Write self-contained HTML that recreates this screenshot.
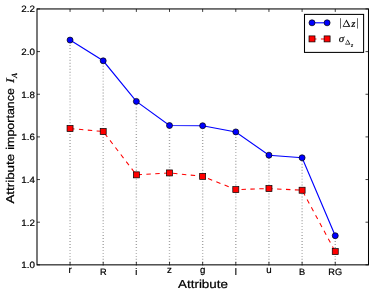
<!DOCTYPE html><html><head><meta charset="utf-8"><style>html,body{margin:0;padding:0;background:#fff}svg{display:block}text{font-family:"Liberation Sans",sans-serif;fill:#000;text-rendering:geometricPrecision;stroke:#000;stroke-width:0.22px}.s{font-family:"Liberation Serif",serif}</style></head><body>
<svg width="374" height="293" viewBox="0 0 374 293">
<rect width="374" height="293" fill="#fff"/><filter id="f" x="0" y="0" width="1" height="1" color-interpolation-filters="sRGB"><feOffset dx="0" dy="0"/></filter><g filter="url(#f)">
<line x1="70.05" y1="265.70" x2="70.05" y2="40.08" stroke="#000" stroke-width="1.4" stroke-dasharray="0.9 2.07" opacity="0.36"/>
<line x1="103.20" y1="265.70" x2="103.20" y2="60.80" stroke="#000" stroke-width="1.4" stroke-dasharray="0.9 2.07" opacity="0.36"/>
<line x1="136.35" y1="265.70" x2="136.35" y2="101.38" stroke="#000" stroke-width="1.4" stroke-dasharray="0.9 2.07" opacity="0.36"/>
<line x1="169.50" y1="265.70" x2="169.50" y2="125.52" stroke="#000" stroke-width="1.4" stroke-dasharray="0.9 2.07" opacity="0.36"/>
<line x1="202.65" y1="265.70" x2="202.65" y2="125.73" stroke="#000" stroke-width="1.4" stroke-dasharray="0.9 2.07" opacity="0.36"/>
<line x1="235.80" y1="265.70" x2="235.80" y2="131.92" stroke="#000" stroke-width="1.4" stroke-dasharray="0.9 2.07" opacity="0.36"/>
<line x1="268.95" y1="265.70" x2="268.95" y2="155.20" stroke="#000" stroke-width="1.4" stroke-dasharray="0.9 2.07" opacity="0.36"/>
<line x1="302.10" y1="265.70" x2="302.10" y2="157.77" stroke="#000" stroke-width="1.4" stroke-dasharray="0.9 2.07" opacity="0.36"/>
<line x1="335.25" y1="265.70" x2="335.25" y2="235.73" stroke="#000" stroke-width="1.4" stroke-dasharray="0.9 2.07" opacity="0.36"/>
<polyline points="70.05,40.08 103.20,60.80 136.35,101.38 169.50,125.52 202.65,125.73 235.80,131.92 268.95,155.20 302.10,157.77 335.25,235.73" fill="none" stroke="#0000ff" stroke-width="1.15"/>
<polyline points="70.05,128.51 103.20,131.50 136.35,174.85 169.50,172.93 202.65,176.35 235.80,189.59 268.95,188.52 302.10,190.23 335.25,251.62" fill="none" stroke="#ff0000" stroke-width="1.05" stroke-dasharray="4.45 4.45"/>
<circle cx="70.05" cy="40.08" r="3.0" fill="#0000ff" stroke="#000" stroke-width="0.7"/>
<circle cx="103.20" cy="60.80" r="3.0" fill="#0000ff" stroke="#000" stroke-width="0.7"/>
<circle cx="136.35" cy="101.38" r="3.0" fill="#0000ff" stroke="#000" stroke-width="0.7"/>
<circle cx="169.50" cy="125.52" r="3.0" fill="#0000ff" stroke="#000" stroke-width="0.7"/>
<circle cx="202.65" cy="125.73" r="3.0" fill="#0000ff" stroke="#000" stroke-width="0.7"/>
<circle cx="235.80" cy="131.92" r="3.0" fill="#0000ff" stroke="#000" stroke-width="0.7"/>
<circle cx="268.95" cy="155.20" r="3.0" fill="#0000ff" stroke="#000" stroke-width="0.7"/>
<circle cx="302.10" cy="157.77" r="3.0" fill="#0000ff" stroke="#000" stroke-width="0.7"/>
<circle cx="335.25" cy="235.73" r="3.0" fill="#0000ff" stroke="#000" stroke-width="0.7"/>
<rect x="67.05" y="125.51" width="6.0" height="6.0" fill="#ff0000" stroke="#000" stroke-width="0.7"/>
<rect x="100.20" y="128.50" width="6.0" height="6.0" fill="#ff0000" stroke="#000" stroke-width="0.7"/>
<rect x="133.35" y="171.85" width="6.0" height="6.0" fill="#ff0000" stroke="#000" stroke-width="0.7"/>
<rect x="166.50" y="169.93" width="6.0" height="6.0" fill="#ff0000" stroke="#000" stroke-width="0.7"/>
<rect x="199.65" y="173.35" width="6.0" height="6.0" fill="#ff0000" stroke="#000" stroke-width="0.7"/>
<rect x="232.80" y="186.59" width="6.0" height="6.0" fill="#ff0000" stroke="#000" stroke-width="0.7"/>
<rect x="265.95" y="185.52" width="6.0" height="6.0" fill="#ff0000" stroke="#000" stroke-width="0.7"/>
<rect x="299.10" y="187.23" width="6.0" height="6.0" fill="#ff0000" stroke="#000" stroke-width="0.7"/>
<rect x="332.25" y="248.62" width="6.0" height="6.0" fill="#ff0000" stroke="#000" stroke-width="0.7"/>
<rect x="37.0" y="8.95" width="331.50" height="255.90" fill="none" stroke="#000" stroke-width="1.05"/>
<path d="M70.05 264.85v-3.0M70.05 8.95v3.0" stroke="#000" stroke-width="0.75"/>
<path d="M103.20 264.85v-3.0M103.20 8.95v3.0" stroke="#000" stroke-width="0.75"/>
<path d="M136.35 264.85v-3.0M136.35 8.95v3.0" stroke="#000" stroke-width="0.75"/>
<path d="M169.50 264.85v-3.0M169.50 8.95v3.0" stroke="#000" stroke-width="0.75"/>
<path d="M202.65 264.85v-3.0M202.65 8.95v3.0" stroke="#000" stroke-width="0.75"/>
<path d="M235.80 264.85v-3.0M235.80 8.95v3.0" stroke="#000" stroke-width="0.75"/>
<path d="M268.95 264.85v-3.0M268.95 8.95v3.0" stroke="#000" stroke-width="0.75"/>
<path d="M302.10 264.85v-3.0M302.10 8.95v3.0" stroke="#000" stroke-width="0.75"/>
<path d="M335.25 264.85v-3.0M335.25 8.95v3.0" stroke="#000" stroke-width="0.75"/>
<path d="M37.0 264.85h3.0M368.5 264.85h-3.0" stroke="#000" stroke-width="0.75"/>
<text x="34.9" y="268.15" font-size="9.2" text-anchor="end" textLength="13.6" lengthAdjust="spacingAndGlyphs">1.0</text>
<path d="M37.0 222.20h3.0M368.5 222.20h-3.0" stroke="#000" stroke-width="0.75"/>
<text x="34.9" y="225.50" font-size="9.2" text-anchor="end" textLength="13.6" lengthAdjust="spacingAndGlyphs">1.2</text>
<path d="M37.0 179.55h3.0M368.5 179.55h-3.0" stroke="#000" stroke-width="0.75"/>
<text x="34.9" y="182.85" font-size="9.2" text-anchor="end" textLength="13.6" lengthAdjust="spacingAndGlyphs">1.4</text>
<path d="M37.0 136.90h3.0M368.5 136.90h-3.0" stroke="#000" stroke-width="0.75"/>
<text x="34.9" y="140.20" font-size="9.2" text-anchor="end" textLength="13.6" lengthAdjust="spacingAndGlyphs">1.6</text>
<path d="M37.0 94.25h3.0M368.5 94.25h-3.0" stroke="#000" stroke-width="0.75"/>
<text x="34.9" y="97.55" font-size="9.2" text-anchor="end" textLength="13.6" lengthAdjust="spacingAndGlyphs">1.8</text>
<path d="M37.0 51.60h3.0M368.5 51.60h-3.0" stroke="#000" stroke-width="0.75"/>
<text x="34.9" y="54.90" font-size="9.2" text-anchor="end" textLength="13.6" lengthAdjust="spacingAndGlyphs">2.0</text>
<path d="M37.0 8.95h3.0M368.5 8.95h-3.0" stroke="#000" stroke-width="0.75"/>
<text x="34.9" y="12.25" font-size="9.2" text-anchor="end" textLength="13.6" lengthAdjust="spacingAndGlyphs">2.2</text>
<text x="70.05" y="272.9" font-size="9.7" text-anchor="middle">r</text>
<text x="103.20" y="275.0" font-size="9.2" text-anchor="middle">R</text>
<text x="136.35" y="275.0" font-size="9.4" text-anchor="middle">i</text>
<text x="169.50" y="272.9" font-size="9.7" text-anchor="middle">z</text>
<text x="202.65" y="272.9" font-size="9.7" text-anchor="middle">g</text>
<text x="235.80" y="275.0" font-size="9.4" text-anchor="middle">l</text>
<text x="268.95" y="272.9" font-size="9.7" text-anchor="middle">u</text>
<text x="302.10" y="275.0" font-size="9.2" text-anchor="middle">B</text>
<text x="335.25" y="275.0" font-size="9.2" text-anchor="middle">RG</text>
<text x="203.0" y="287.5" font-size="11.6" text-anchor="middle" textLength="49.9" lengthAdjust="spacingAndGlyphs">Attribute</text>
<g transform="translate(13.9 203.6) rotate(-90)"><text x="0" y="0" font-size="11.3" textLength="49.8" lengthAdjust="spacingAndGlyphs">Attribute</text><text x="53.9" y="0" font-size="11.3" textLength="61.6" lengthAdjust="spacingAndGlyphs">importance</text><text class="s" x="120.6" y="0" font-size="11.6" font-style="italic" textLength="4.8" lengthAdjust="spacingAndGlyphs">I</text><text class="s" x="125.5" y="3.3" font-size="8.0" font-style="italic">A</text></g>
<rect x="304.5" y="14.4" width="59.1" height="38" fill="none" stroke="#000" stroke-width="1.05"/>
<line x1="312" y1="22.8" x2="327.1" y2="22.8" stroke="#0000ff" stroke-width="1.15"/>
<circle cx="312" cy="22.8" r="3.0" fill="#0000ff" stroke="#000" stroke-width="0.7"/><circle cx="327.1" cy="22.8" r="3.0" fill="#0000ff" stroke="#000" stroke-width="0.7"/>
<line x1="312" y1="38.9" x2="327.1" y2="38.9" stroke="#ff0000" stroke-width="1.05" stroke-dasharray="4.45 4.45"/>
<rect x="309.0" y="35.9" width="6" height="6" fill="#ff0000" stroke="#000" stroke-width="0.7"/><rect x="324.1" y="35.9" width="6" height="6" fill="#ff0000" stroke="#000" stroke-width="0.7"/>
<path d="M340.5 18.2v10.4M357.5 18.2v10.4" stroke="#000" stroke-width="0.6"/>
<path fill-rule="evenodd" fill="#000" d="M342.60 26.70L346.50 19.50L350.40 26.70ZM343.69 25.91L346.23 21.23L348.76 25.91Z"/>
<text class="s" x="351.2" y="26.7" font-size="10.6" font-style="italic">z</text>
<text class="s" x="338.8" y="41.6" font-size="10.6" font-style="italic" textLength="5.4" lengthAdjust="spacingAndGlyphs">σ</text>
<path fill-rule="evenodd" fill="#000" d="M345.10 44.40L347.75 39.50L350.40 44.40ZM345.84 43.86L347.56 40.68L349.29 43.86Z"/>
<text class="s" x="351.0" y="47.0" font-size="5.6" font-style="italic">z</text>
</g></svg></body></html>
